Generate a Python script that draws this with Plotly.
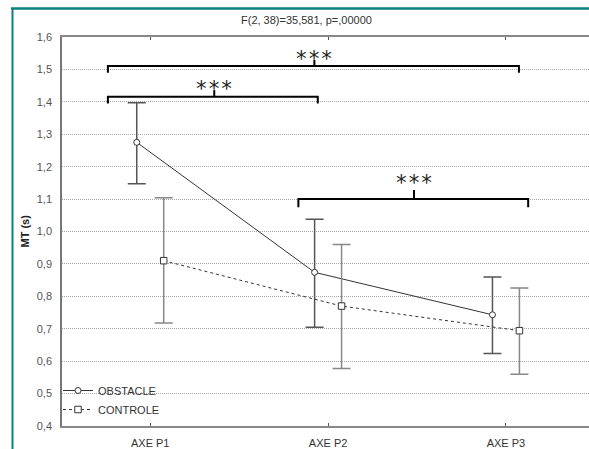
import plotly.graph_objects as go

categories = ["AXE P1", "AXE P2", "AXE P3"]
obstacle_mean = [1.275, 0.874, 0.743]
obstacle_upper = [1.397, 1.038, 0.860]
obstacle_lower = [1.147, 0.705, 0.624]
controle_mean = [0.910, 0.770, 0.694]
controle_upper = [1.104, 0.960, 0.826]
controle_lower = [0.718, 0.577, 0.560]
y_ticks = [0.4, 0.5, 0.6, 0.7, 0.8, 0.9, 1.0, 1.1, 1.2, 1.3, 1.4, 1.5, 1.6]
y_tick_labels = ["0,4", "0,5", "0,6", "0,7", "0,8", "0,9", "1,0", "1,1", "1,2", "1,3", "1,4", "1,5", "1,6"]
title_text = "F(2, 38)=35,581, p=,00000"

# significance brackets: (left, right, centre, bar y, end y, tick top y, star y) in axis units
brackets = [
    (-0.238, 2.073, 0.923, 1.5105, 1.490, 1.529, 1.5445),
    (-0.238, 0.942, 0.360, 1.416, 1.395, 1.436, 1.452),
    (0.833, 2.125, 1.483, 1.100, 1.0746, 1.128, 1.162),
]

off = 0.0758
idx = list(range(len(categories)))
x_obs = [i - off for i in idx]
x_con = [i + off for i in idx]

fig = go.Figure()
fig.add_trace(go.Scatter(
    x=x_obs, y=obstacle_mean, name="OBSTACLE", mode="lines+markers",
    line=dict(color="#333333", width=1),
    marker=dict(symbol="circle", size=6, color="white", line=dict(color="#333333", width=1)),
    error_y=dict(type="data", symmetric=False,
                 array=[u - m for u, m in zip(obstacle_upper, obstacle_mean)],
                 arrayminus=[m - l for m, l in zip(obstacle_mean, obstacle_lower)],
                 color="#555555", thickness=1.5, width=9),
))
fig.add_trace(go.Scatter(
    x=x_con, y=controle_mean, name="CONTROLE", mode="lines+markers",
    line=dict(color="#333333", width=1, dash="dot"),
    marker=dict(symbol="square", size=6.5, color="white", line=dict(color="#333333", width=1)),
    error_y=dict(type="data", symmetric=False,
                 array=[u - m for u, m in zip(controle_upper, controle_mean)],
                 arrayminus=[m - l for m, l in zip(controle_mean, controle_lower)],
                 color="#888888", thickness=1.5, width=9),
))

shapes = []
annotations = []
for (xl, xr, xc, yb, ye, yt, ys) in brackets:
    shapes.append(dict(type="path", xref="x", yref="y",
                       path=f"M {xl},{ye} L {xl},{yb} L {xr},{yb} L {xr},{ye}",
                       line=dict(color="black", width=2)))
    shapes.append(dict(type="line", xref="x", yref="y", x0=xc, x1=xc, y0=yb, y1=yt,
                       line=dict(color="black", width=2)))
    annotations.append(dict(x=xc, y=ys, xref="x", yref="y", text="***", showarrow=False,
                            xanchor="center", yanchor="middle", yshift=-4,
                            font=dict(family="DejaVu Sans Mono, monospace",
                                      size=21, color="#222222")))

# teal frame
W, H = 589, 449
L, R, T, B = 62, 0, 37, 23
pw, ph = W - L - R, H - T - B
def px(x):
    return (x - L) / pw
def py(y):
    return (H - B - y) / ph
shapes.append(dict(type="line", xref="paper", yref="paper", x0=px(11), x1=px(589),
                   y0=py(8.5), y1=py(8.5), line=dict(color="#0e8080", width=2.5)))
shapes.append(dict(type="line", xref="paper", yref="paper", x0=px(12.5), x1=px(12.5),
                   y0=py(8.5), y1=py(449), line=dict(color="#0e8080", width=2)))

annotations.append(dict(x=px(306), y=py(20), xref="paper", yref="paper", text=title_text,
                        showarrow=False, xanchor="center", yanchor="middle",
                        font=dict(size=11, color="#333333")))
annotations.append(dict(x=px(24), y=0.5, xref="paper", yref="paper", text="<b>MT (s)</b>",
                        showarrow=False, textangle=-90, xanchor="center", yanchor="middle",
                        font=dict(size=11, color="#222222")))

fig.update_layout(
    width=W, height=H,
    margin=dict(l=L, r=R, t=T, b=B, pad=0, autoexpand=False),
    paper_bgcolor="white", plot_bgcolor="white",
    font=dict(family="Liberation Sans, Arial, sans-serif", size=11, color="#333333"),
    showlegend=True,
    legend=dict(x=px(58), y=py(376), xanchor="left", yanchor="top",
                bgcolor="rgba(0,0,0,0)", borderwidth=0, itemwidth=30,
                font=dict(size=11, color="#333333"), tracegroupgap=0),
    shapes=shapes, annotations=annotations,
)
fig.update_xaxes(range=[-0.496, 2.467], tickvals=idx, ticktext=categories,
                 showline=True, linecolor="#888888", linewidth=2, mirror="ticks",
                 ticks="inside", ticklen=3, tickcolor="#555555", showgrid=False,
                 zeroline=False, ticklabelstandoff=6, automargin=False,
                 tickfont=dict(size=11, color="#333333"))
fig.update_yaxes(range=[0.4, 1.6], tickvals=y_ticks, ticktext=y_tick_labels,
                 showline=True, linecolor="#777777", linewidth=1.5, ticks="",
                 showgrid=True, gridcolor="#a8a8a8", griddash="1px,1px", gridwidth=1,
                 zeroline=False, ticklabelstandoff=6, automargin=False,
                 tickfont=dict(size=11, color="#555555"))

css_js = ("var s=document.createElement('style');"
          "s.textContent='html,body{margin:0;padding:0;overflow:hidden;"
          "scrollbar-width:none;width:589px;height:449px}"
          "::-webkit-scrollbar{display:none;width:0;height:0}';"
          "document.head.appendChild(s);")
fig.write_html("out.html", config={"displayModeBar": False}, post_script=css_js)
